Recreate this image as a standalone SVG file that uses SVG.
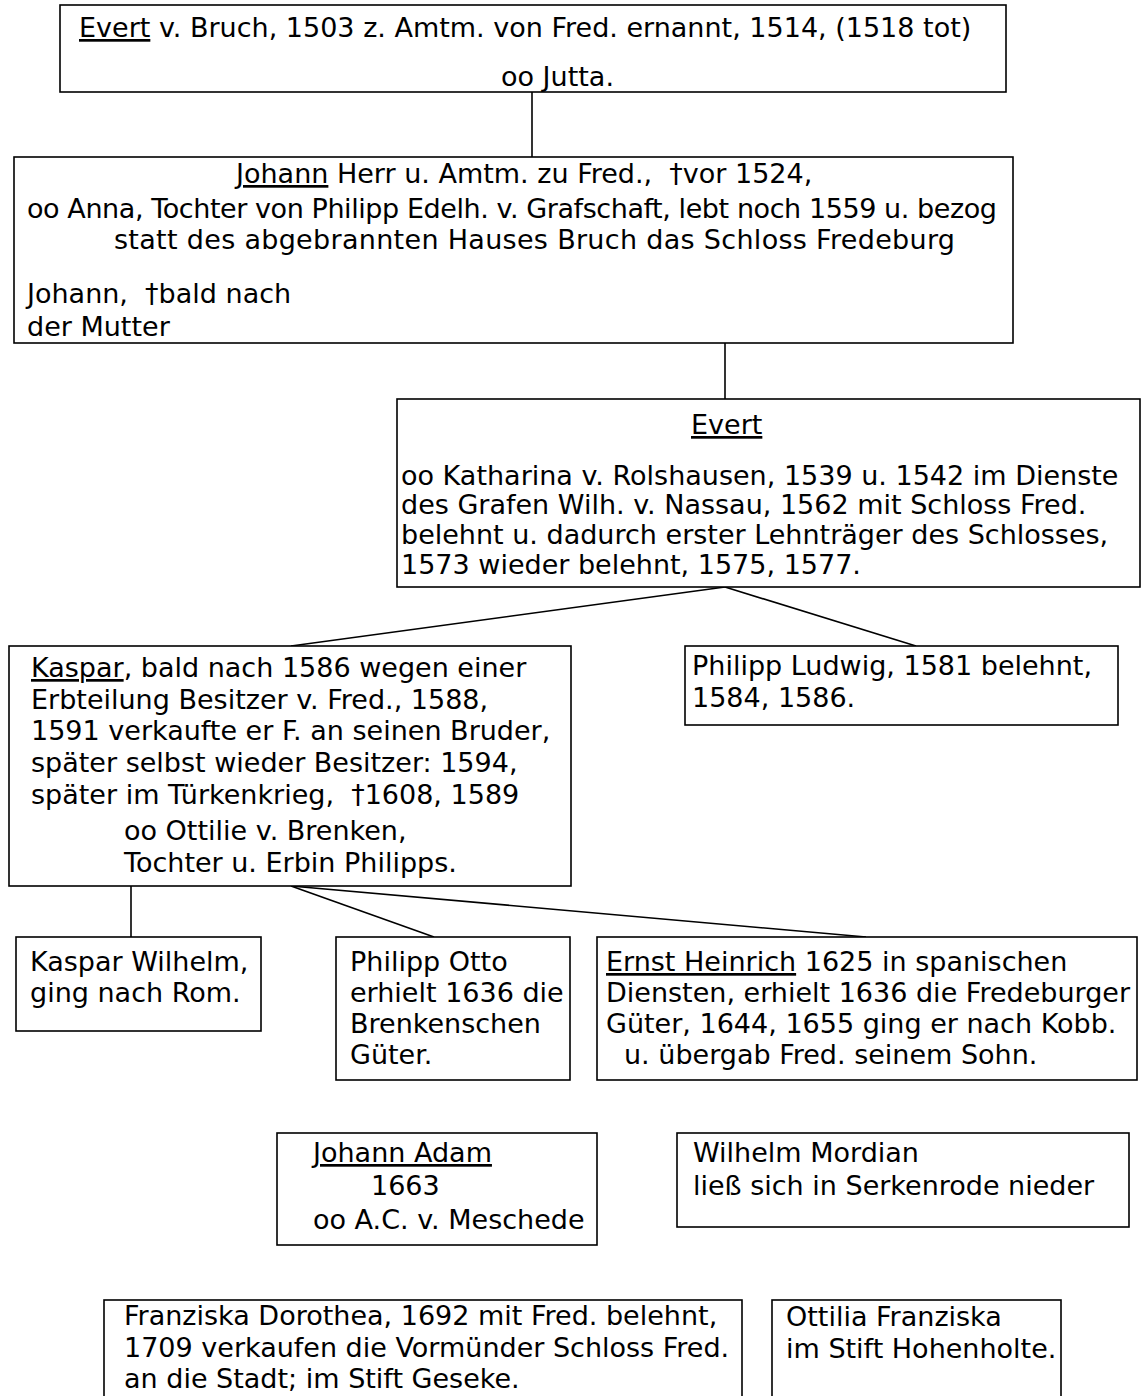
<svg xmlns="http://www.w3.org/2000/svg" width="1141" height="1396" viewBox="0 0 1141 1396">
<style>
.box{fill:#fff;stroke:#000;stroke-width:1.6}
.t{font-family:"DejaVu Sans",Verdana,sans-serif;font-size:27px;fill:#000}
.u{text-decoration:underline}
#connectors line{stroke:#000;stroke-width:1.6;fill:none}
</style>
<rect width="1141" height="1396" fill="#fff"/>
<g id="connectors">
<line x1="532" y1="92" x2="532" y2="157"/>
<line x1="725" y1="343" x2="725" y2="399"/>
<line x1="725" y1="587" x2="291" y2="646"/>
<line x1="725" y1="587" x2="916" y2="646"/>
<line x1="131" y1="886" x2="131" y2="937"/>
<line x1="291" y1="886" x2="434" y2="937"/>
<line x1="291" y1="886" x2="866" y2="937"/>
</g>
<g id="n1">
<rect class="box" x="60" y="5" width="946" height="87"/>
<text class="t" x="79" y="37"><tspan class="u">Evert</tspan> v. Bruch, 1503 z. Amtm. von Fred. ernannt, 1514, (1518 tot)</text>
<text class="t" x="501" y="86">oo Jutta.</text>
</g>
<g id="n2">
<rect class="box" x="14" y="157" width="999" height="186"/>
<text class="t" x="236" y="183"><tspan class="u">Johann</tspan> Herr u. Amtm. zu Fred., &#160;†vor 1524,</text>
<text class="t" x="27" y="218" textLength="970" lengthAdjust="spacing">oo Anna, Tochter von Philipp Edelh. v. Grafschaft, lebt noch 1559 u. bezog</text>
<text class="t" x="114" y="249" textLength="841" lengthAdjust="spacing">statt des abgebrannten Hauses Bruch das Schloss Fredeburg</text>
<text class="t" x="27" y="303">Johann, &#160;†bald nach</text>
<text class="t" x="27" y="336">der Mutter</text>
</g>
<g id="n3">
<rect class="box" x="397" y="399" width="743" height="188"/>
<text class="t" x="691" y="434"><tspan class="u">Evert</tspan></text>
<text class="t" x="401" y="485">oo Katharina v. Rolshausen, 1539 u. 1542 im Dienste</text>
<text class="t" x="401" y="514">des Grafen Wilh. v. Nassau, 1562 mit Schloss Fred.</text>
<text class="t" x="401" y="544">belehnt u. dadurch erster Lehnträger des Schlosses,</text>
<text class="t" x="401" y="574">1573 wieder belehnt, 1575, 1577.</text>
</g>
<g id="n4">
<rect class="box" x="9" y="646" width="562" height="240"/>
<text class="t" x="31" y="677"><tspan class="u">Kaspar</tspan>, bald nach 1586 wegen einer</text>
<text class="t" x="31" y="709">Erbteilung Besitzer v. Fred., 1588,</text>
<text class="t" x="31" y="740">1591 verkaufte er F. an seinen Bruder,</text>
<text class="t" x="31" y="772">später selbst wieder Besitzer: 1594,</text>
<text class="t" x="31" y="804">später im Türkenkrieg, &#160;†1608, 1589</text>
<text class="t" x="124" y="840">oo Ottilie v. Brenken,</text>
<text class="t" x="124" y="872">Tochter u. Erbin Philipps.</text>
</g>
<g id="n5">
<rect class="box" x="685" y="646" width="433" height="79"/>
<text class="t" x="692" y="675">Philipp Ludwig, 1581 belehnt,</text>
<text class="t" x="692" y="707">1584, 1586.</text>
</g>
<g id="n6">
<rect class="box" x="16" y="937" width="245" height="94"/>
<text class="t" x="30" y="971">Kaspar Wilhelm,</text>
<text class="t" x="30" y="1002">ging nach Rom.</text>
</g>
<g id="n7">
<rect class="box" x="336" y="937" width="234" height="143"/>
<text class="t" x="350" y="971">Philipp Otto</text>
<text class="t" x="350" y="1002">erhielt 1636 die</text>
<text class="t" x="350" y="1033">Brenkenschen</text>
<text class="t" x="350" y="1064">Güter.</text>
</g>
<g id="n8">
<rect class="box" x="597" y="937" width="540" height="143"/>
<text class="t" x="606" y="971"><tspan class="u">Ernst Heinrich</tspan> 1625 in spanischen</text>
<text class="t" x="606" y="1002">Diensten, erhielt 1636 die Fredeburger</text>
<text class="t" x="606" y="1033">Güter, 1644, 1655 ging er nach Kobb.</text>
<text class="t" x="624" y="1064">u. übergab Fred. seinem Sohn.</text>
</g>
<g id="n9">
<rect class="box" x="277" y="1133" width="320" height="112"/>
<text class="t" x="313" y="1162"><tspan class="u">Johann Adam</tspan></text>
<text class="t" x="371" y="1195">1663</text>
<text class="t" x="313" y="1229">oo A.C. v. Meschede</text>
</g>
<g id="n10">
<rect class="box" x="677" y="1133" width="452" height="94"/>
<text class="t" x="693" y="1162">Wilhelm Mordian</text>
<text class="t" x="693" y="1195">ließ sich in Serkenrode nieder</text>
</g>
<g id="n11">
<rect class="box" x="104" y="1300" width="638" height="110"/>
<text class="t" x="124" y="1325">Franziska Dorothea, 1692 mit Fred. belehnt,</text>
<text class="t" x="124" y="1357">1709 verkaufen die Vormünder Schloss Fred.</text>
<text class="t" x="124" y="1388">an die Stadt; im Stift Geseke.</text>
</g>
<g id="n12">
<rect class="box" x="772" y="1300" width="289" height="110"/>
<text class="t" x="786" y="1326">Ottilia Franziska</text>
<text class="t" x="786" y="1358">im Stift Hohenholte.</text>
</g>
</svg>
